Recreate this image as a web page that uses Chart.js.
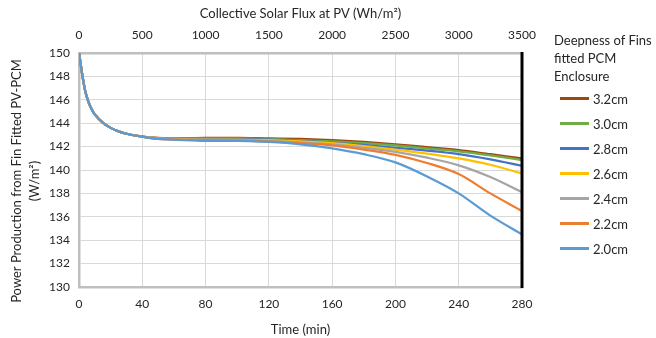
<!DOCTYPE html>
<html>
<head>
<meta charset="utf-8">
<script src="https://cdn.jsdelivr.net/npm/chart.js@4.4.1/dist/chart.umd.min.js"></script>
<style>
  html, body { margin: 0; padding: 0; background: #fff; }
  #wrap { position: relative; width: 656px; height: 338px; }
  #legenda { position: absolute; left: 554px; top: 31px; font-family: Lato, sans-serif; font-size: 13px; color: #262626; }
  #legenda .titulo { line-height: 18px; margin-bottom: 1px; }
  #legenda .item { height: 25px; display: flex; align-items: center; }
  #legenda .traco { width: 29px; height: 2.5px; margin-left: 6px; margin-right: 4px; }
</style>
</head>
<body>
<div id="wrap">
  <canvas id="graficoFins" width="656" height="338"></canvas>
  <div id="legenda"></div>
</div>
<script>
// tempo em minutos (eixo de baixo)
const tempo = [0, 1, 2, 4, 6, 8, 10, 15, 20, 25, 30, 40, 50, 60, 80, 100, 120, 140, 160, 180, 200, 220, 240, 260, 280];

// potência (W/m²) por profundidade de aleta
const fin32 = [150, 149.1, 148.2, 146.7, 145.8, 145.2, 144.75, 144.05, 143.6, 143.3, 143.1, 142.85, 142.75, 142.7, 142.75, 142.75, 142.7, 142.65, 142.55, 142.4, 142.2, 141.95, 141.7, 141.35, 141.0];
const fin30 = [150, 149.1, 148.2, 146.7, 145.8, 145.2, 144.75, 144.05, 143.6, 143.3, 143.1, 142.85, 142.7, 142.7, 142.7, 142.7, 142.65, 142.55, 142.45, 142.3, 142.1, 141.85, 141.6, 141.25, 140.85];
const fin28 = [150, 149.1, 148.2, 146.7, 145.8, 145.2, 144.75, 144.05, 143.6, 143.3, 143.1, 142.85, 142.7, 142.65, 142.65, 142.65, 142.6, 142.5, 142.35, 142.15, 141.9, 141.65, 141.35, 140.9, 140.35];
const fin26 = [150, 149.1, 148.2, 146.7, 145.8, 145.2, 144.75, 144.05, 143.6, 143.3, 143.1, 142.85, 142.7, 142.65, 142.6, 142.6, 142.55, 142.45, 142.3, 142.05, 141.75, 141.4, 141.0, 140.45, 139.7];
const fin24 = [150, 149.1, 148.2, 146.7, 145.8, 145.2, 144.75, 144.05, 143.6, 143.3, 143.1, 142.85, 142.7, 142.6, 142.6, 142.55, 142.5, 142.35, 142.2, 141.9, 141.55, 141.05, 140.4, 139.4, 138.1];
const fin22 = [150, 149.1, 148.2, 146.7, 145.8, 145.2, 144.75, 144.05, 143.6, 143.3, 143.1, 142.85, 142.65, 142.6, 142.55, 142.5, 142.45, 142.3, 142.1, 141.75, 141.3, 140.6, 139.65, 138.0, 136.5];
const fin20 = [150, 149.1, 148.2, 146.7, 145.8, 145.2, 144.75, 144.05, 143.6, 143.3, 143.1, 142.85, 142.65, 142.6, 142.5, 142.5, 142.4, 142.2, 141.85, 141.35, 140.65, 139.45, 138.0, 136.1, 134.5];

const nomes = ['3.2cm', '3.0cm', '2.8cm', '2.6cm', '2.4cm', '2.2cm', '2.0cm'];
const series = [fin32, fin30, fin28, fin26, fin24, fin22, fin20];
const cores = ['#9E480E', '#70AD47', '#4472C4', '#FFC000', '#A5A5A5', '#ED7D31', '#5B9BD5'];

// ticks dos eixos
const ticksTempo = [0, 40, 80, 120, 160, 200, 240, 280];
const ticksFluxo = [0, 500, 1000, 1500, 2000, 2500, 3000, 3500];
const ticksPotencia = [130, 132, 134, 136, 138, 140, 142, 144, 146, 148, 150];

const tituloY = ['Power Production from Fin Fitted PV-PCM', '(W/m²)'];

const fonte = 'Lato, sans-serif';
const corTexto = '#262626';

let datasets = [];
for (let i = 0; i < series.length; i++) {
    datasets.push({
        label: nomes[i],
        data: series[i].map((v, j) => ({ x: tempo[j], y: v })),
        borderColor: cores[i],
        backgroundColor: cores[i],
        borderWidth: 2.25,
        pointRadius: 0,
        cubicInterpolationMode: 'monotone',
        fill: false,
        order: series.length - i   // 2.0cm fica por cima
    });
}

// linha preta na borda direita + título do eixo y (um pouco abaixo do centro)
const extras = {
    id: 'extras',
    afterDatasetsDraw(chart) {
        const a = chart.chartArea;
        const c = chart.ctx;
        c.save();
        c.strokeStyle = '#000';
        c.lineWidth = 3;
        c.beginPath();
        c.moveTo(a.right, a.top - 1);
        c.lineTo(a.right, a.bottom + 1);
        c.stroke();

        c.translate(17, 181);
        c.rotate(-Math.PI / 2);
        c.fillStyle = corTexto;
        c.font = '13px ' + fonte;
        c.textAlign = 'center';
        c.textBaseline = 'middle';
        c.fillText(tituloY[0], 0, 0);
        c.fillText(tituloY[1], 0, 18);
        c.restore();
    }
};

const config = {
    type: 'line',
    data: { datasets: datasets },
    plugins: [extras],
    options: {
        responsive: false,
        animation: false,
        layout: { padding: { left: 0, top: 0, right: 134, bottom: 0 } },
        plugins: { legend: { display: false }, tooltip: { enabled: false } },
        scales: {
            x: {
                type: 'linear', position: 'bottom', min: 0, max: 280,
                afterBuildTicks: s => { s.ticks = ticksTempo.map(v => ({ value: v })); },
                afterFit: s => { s.height = 51; },
                grid: { color: '#D9D9D9', lineWidth: 1, drawTicks: false },
                border: { color: '#BFBFBF', width: 2.5 },
                ticks: { padding: 10, color: corTexto, font: { family: fonte, size: 12 }, callback: v => String(v) },
                title: { display: true, text: 'Time (min)', color: corTexto, font: { family: fonte, size: 13 }, padding: { top: 3, bottom: 0 } }
            },
            x2: {
                type: 'linear', position: 'top', min: 0, max: 3500,
                afterBuildTicks: s => { s.ticks = ticksFluxo.map(v => ({ value: v })); },
                afterFit: s => { s.height = 53; },
                grid: { display: false, drawTicks: false },
                border: { color: '#BFBFBF', width: 2.5 },
                ticks: { padding: 11, color: corTexto, font: { family: fonte, size: 12 }, callback: v => String(v) },
                title: { display: true, text: 'Collective Solar Flux at PV (Wh/m²)', color: corTexto, font: { family: fonte, size: 13 }, padding: { top: 6, bottom: 2 } }
            },
            y: {
                type: 'linear', min: 130, max: 150,
                afterBuildTicks: s => { s.ticks = ticksPotencia.map(v => ({ value: v })); },
                afterFit: s => { s.width = 79; },
                grid: { color: '#D9D9D9', lineWidth: 1, drawTicks: false },
                border: { color: '#BFBFBF', width: 2.5 },
                ticks: { padding: 9, color: corTexto, font: { family: fonte, size: 12 } },
                title: { display: false }
            }
        }
    }
};

let graficoFins = new Chart(document.getElementById('graficoFins').getContext('2d'), config);

// legenda em HTML à direita
const legenda = document.getElementById('legenda');
legenda.innerHTML = '<div class="titulo">Deepness of Fins<br>fitted PCM<br>Enclosure</div>';
for (let i = 0; i < nomes.length; i++) {
    legenda.innerHTML += '<div class="item"><span class="traco" style="background:' + cores[i] + '"></span>' + nomes[i] + '</div>';
}
</script>
</body>
</html>
